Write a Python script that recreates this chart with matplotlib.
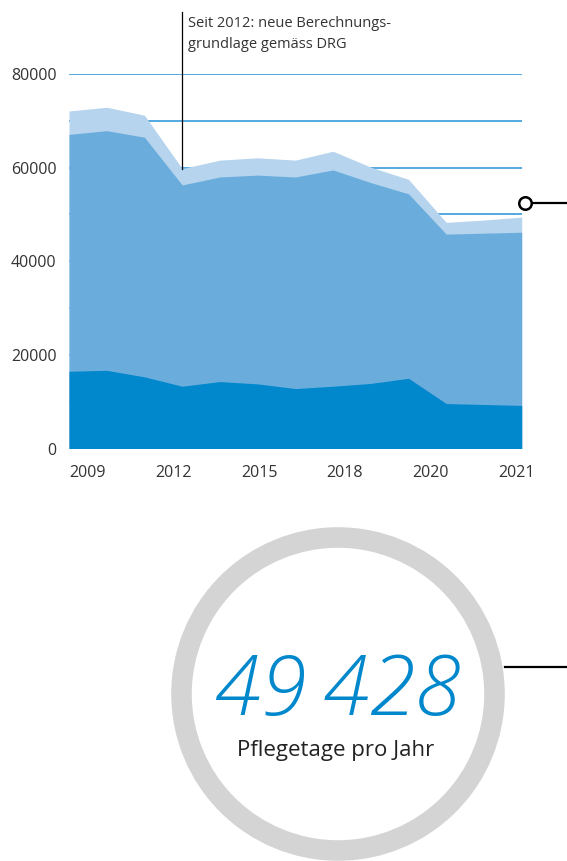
import numpy as np
import matplotlib.pyplot as plt
from matplotlib.patches import Circle

# Pflegetage per year, stacked
years = [2009, 2010, 2011, 2012, 2013, 2014, 2015, 2016, 2017, 2018, 2019, 2020, 2021]
bottom_layer = [16500, 16700, 15300, 13300, 14300, 13800, 12800, 13300, 13900, 15000, 9600, 9400, 9200]
middle_total = [67100, 67900, 66500, 56300, 58000, 58400, 58000, 59500, 56800, 54400, 45800, 46000, 46200]
grand_total = [72100, 72900, 71200, 59800, 61600, 62100, 61600, 63500, 60100, 57500, 48300, 48800, 49428]

tick_labels = ["2009", "2012", "2015", "2018", "2020", "2021"]
y_ticks = [0, 20000, 40000, 60000, 80000]
grid_levels = [10000, 20000, 30000, 40000, 50000, 60000, 70000, 80000]

headline = "49\u2009428"
headline_caption = "Pflegetage pro Jahr"
note_lines = ["Seit 2012: neue Berechnungs-", "grundlage gemäss DRG"]

c_dark = "#0087cc"
c_mid = "#6aaddc"
c_light = "#b6d4ee"
c_grid = "#2592d4"
c_text = "#333333"

plt.rcParams['font.family'] = ['Open Sans', 'DejaVu Sans']

W, H = 567, 861
fig = plt.figure(figsize=(W / 100, H / 100), dpi=100)

# main chart
ax = fig.add_axes([69 / W, 1 - 448.5 / H, 452.7 / W, 374.5 / H])
x = np.arange(len(years))
bottom_layer = np.array(bottom_layer)
middle_total = np.array(middle_total)
grand_total = np.array(grand_total)

for g in grid_levels:
    ax.axhline(g, color=c_grid, lw=1.1, zorder=0)
ax.fill_between(x, 0, grand_total, color=c_light, lw=0, zorder=1)
ax.fill_between(x, 0, middle_total, color=c_mid, lw=0, zorder=2)
ax.fill_between(x, 0, bottom_layer, color=c_dark, lw=0, zorder=3)

ax.set_xlim(0, len(years) - 1)
ax.set_ylim(0, 80000)
ax.set_yticks(y_ticks)
ax.set_yticklabels([str(v) for v in y_ticks])
ax.set_xticks(np.linspace(0.5, 11.85, len(tick_labels)))
ax.set_xticklabels(tick_labels)
ax.tick_params(length=0, labelsize=11.5, labelcolor=c_text)
ax.tick_params(axis='y', pad=9)
ax.tick_params(axis='x', pad=12)
for s in ax.spines.values():
    s.set_visible(False)

# 2012 marker line going up to the note
i2012 = years.index(2012)
ax.plot([i2012, i2012], [grand_total[i2012], 93300], color="black", lw=0.9,
        clip_on=False, zorder=5)

# overlay in pixel units for the decorations
ov = fig.add_axes([0, 0, 1, 1])
ov.set_xlim(0, W)
ov.set_ylim(H, 0)
ov.axis('off')

for k, line in enumerate(note_lines):
    ov.text(188, 27 + k * 20.5, line, fontsize=10.5, color=c_text, va='baseline')

# pointer from chart
ov.plot([530, W], [203.3, 203.3], color="black", lw=1.6)
ov.plot([525], [203.3], marker='o', ms=9, mfc='white', mec='black', mew=1.8)

# ring with headline number
ring = Circle((338, 694), 156.5, fill=False, ec="#d4d4d4", lw=14.8)
ov.add_patch(ring)
ov.plot([505, W], [667, 667], color="black", lw=1.6)
ov.text(338, 715, headline, fontsize=60, color=c_dark, style='italic',
        fontweight='light', ha='center', va='baseline')
ov.text(336, 756, headline_caption, fontsize=16, color="#222222",
        ha='center', va='baseline')

fig.savefig("out.png", dpi=100)
